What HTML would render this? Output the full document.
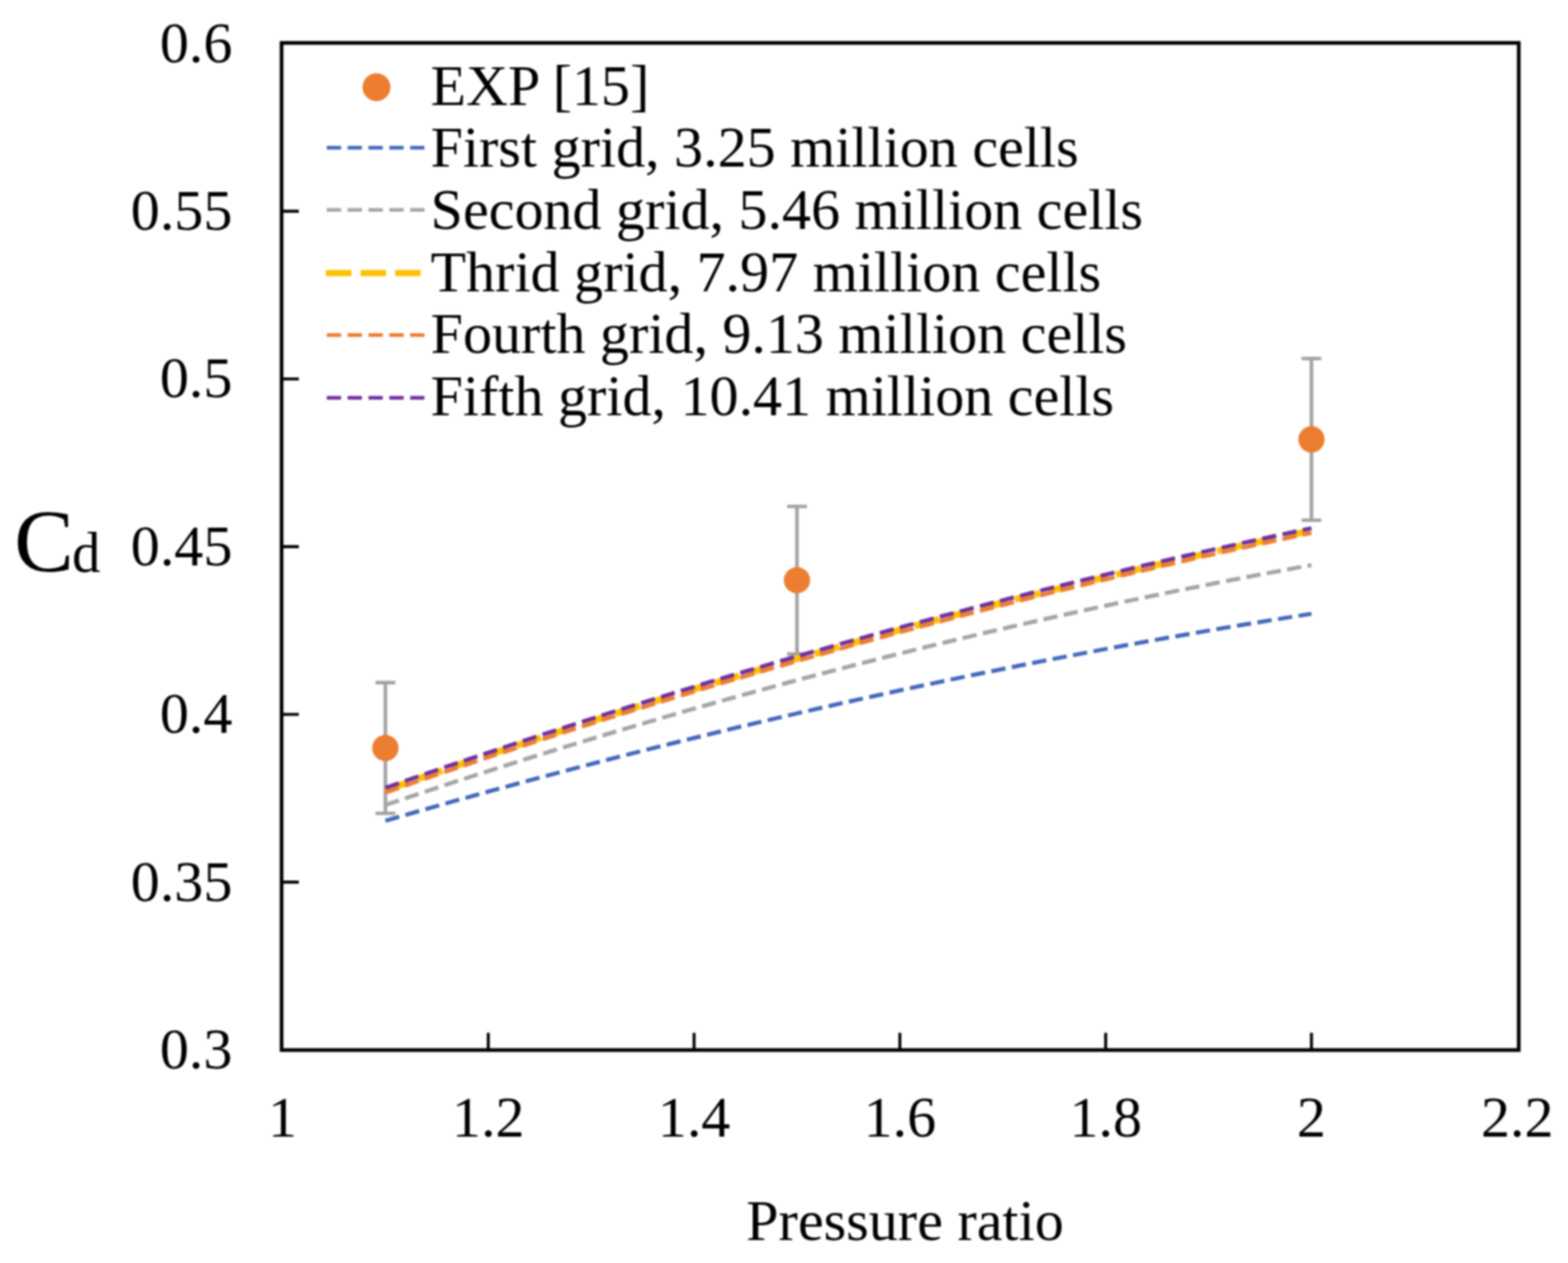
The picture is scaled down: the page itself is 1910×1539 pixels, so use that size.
<!DOCTYPE html><html><head><meta charset="utf-8"><title>Cd vs Pressure ratio</title>
<style>html,body{margin:0;padding:0;background:#fff;}svg{display:block;filter:blur(0.8px);}text{font-family:"Liberation Serif", "Times New Roman", serif;fill:#000;}</style>
</head><body>
<svg width="1910" height="1539" viewBox="0 0 1910 1539">
<rect x="0" y="0" width="1910" height="1539" fill="#fff"/>
<g stroke="#A3A3A3" stroke-width="4.4" fill="none"><path d="M469.44,831.70 V991.12 M457.44,831.70 H481.44 M457.44,991.12 H481.44"/></g>
<g stroke="#A3A3A3" stroke-width="4.4" fill="none"><path d="M970.81,617.10 V796.96 M958.81,617.10 H982.81 M958.81,796.96 H982.81"/></g>
<g stroke="#A3A3A3" stroke-width="4.4" fill="none"><path d="M1597.52,436.83 V633.86 M1585.52,436.83 H1609.52 M1585.52,633.86 H1609.52"/></g>
<path d="M469.44,1000.11 Q1033.48,836.12 1597.52,747.90" fill="none" stroke="#4468BC" stroke-width="5.0" stroke-dasharray="17.45 7.9" stroke-dashoffset="0"/>
<path d="M469.44,980.90 Q1033.48,789.88 1597.52,688.63" fill="none" stroke="#A5A5A5" stroke-width="5.0" stroke-dasharray="17.4 7.85" stroke-dashoffset="0"/>
<path d="M469.44,962.91 Q1033.48,764.99 1597.52,646.53" fill="none" stroke="#FFC000" stroke-width="8.0" stroke-dasharray="31 11.2" stroke-dashoffset="0"/>
<path d="M469.44,965.78 Q1033.48,767.85 1597.52,649.39" fill="none" stroke="#ED7D31" stroke-width="5.0" stroke-dasharray="17.4 7.85" stroke-dashoffset="0"/>
<path d="M469.44,960.05 Q1033.48,762.13 1597.52,643.67" fill="none" stroke="#7030A0" stroke-width="5.0" stroke-dasharray="17.4 7.85" stroke-dashoffset="0"/>
<circle cx="469.44" cy="911.41" r="16" fill="#ED7D31"/>
<circle cx="970.81" cy="707.03" r="16" fill="#ED7D31"/>
<circle cx="1597.52" cy="535.34" r="16" fill="#ED7D31"/>
<rect x="343.00" y="52.30" width="1507.00" height="1227.20" fill="none" stroke="#000" stroke-width="4.5"/>
<path d="M343.00,1074.92 H364.00 M343.00,870.53 H364.00 M343.00,666.15 H364.00 M343.00,461.77 H364.00 M343.00,257.38 H364.00 M594.78,1279.50 V1258.50 M845.47,1279.50 V1258.50 M1096.15,1279.50 V1258.50 M1346.83,1279.50 V1258.50 M1597.52,1279.50 V1258.50" stroke="#000" stroke-width="3.6" fill="none"/>
<text x="283" y="1301.90" text-anchor="end" font-size="70.7">0.3</text>
<text x="283" y="1097.52" text-anchor="end" font-size="70.7">0.35</text>
<text x="283" y="893.13" text-anchor="end" font-size="70.7">0.4</text>
<text x="283" y="688.75" text-anchor="end" font-size="70.7">0.45</text>
<text x="283" y="484.37" text-anchor="end" font-size="70.7">0.5</text>
<text x="283" y="279.98" text-anchor="end" font-size="70.7">0.55</text>
<text x="283" y="75.60" text-anchor="end" font-size="70.7">0.6</text>
<text x="344.10" y="1385.4" text-anchor="middle" font-size="70.7">1</text>
<text x="594.78" y="1385.4" text-anchor="middle" font-size="70.7">1.2</text>
<text x="845.47" y="1385.4" text-anchor="middle" font-size="70.7">1.4</text>
<text x="1096.15" y="1385.4" text-anchor="middle" font-size="70.7">1.6</text>
<text x="1346.83" y="1385.4" text-anchor="middle" font-size="70.7">1.8</text>
<text x="1597.52" y="1385.4" text-anchor="middle" font-size="70.7">2</text>
<text x="1848.20" y="1385.4" text-anchor="middle" font-size="70.7">2.2</text>
<text x="1102.4" y="1511.4" text-anchor="middle" font-size="70.7">Pressure ratio</text>
<text x="17.3" y="696.3" font-size="109">C</text>
<text x="87.8" y="697" font-size="69">d</text>
<text x="524.6" y="127.80" font-size="70.7">EXP [15]</text>
<text x="524.6" y="203.45" font-size="70.7">First grid, 3.25 million cells</text>
<text x="524.6" y="279.10" font-size="70.7">Second grid, 5.46 million cells</text>
<text x="524.6" y="354.75" font-size="70.7">Thrid grid, 7.97 million cells</text>
<text x="524.6" y="430.40" font-size="70.7">Fourth grid, 9.13 million cells</text>
<text x="524.6" y="506.05" font-size="70.7">Fifth grid, 10.41 million cells</text>
<circle cx="458.6" cy="106.3" r="17" fill="#ED7D31"/>
<path d="M398,180.00 H517" stroke="#4468BC" stroke-width="4.5" stroke-dasharray="17.5 7.9"/>
<path d="M398,255.70 H517" stroke="#A5A5A5" stroke-width="4.5" stroke-dasharray="17.5 7.9"/>
<path d="M397,332.70 H514" stroke="#FFC000" stroke-width="7.5" stroke-dasharray="31 11.2"/>
<path d="M398,408.20 H517" stroke="#ED7D31" stroke-width="4.5" stroke-dasharray="17.5 7.9"/>
<path d="M398,484.80 H517" stroke="#7030A0" stroke-width="4.5" stroke-dasharray="17.5 7.9"/>
</svg></body></html>
